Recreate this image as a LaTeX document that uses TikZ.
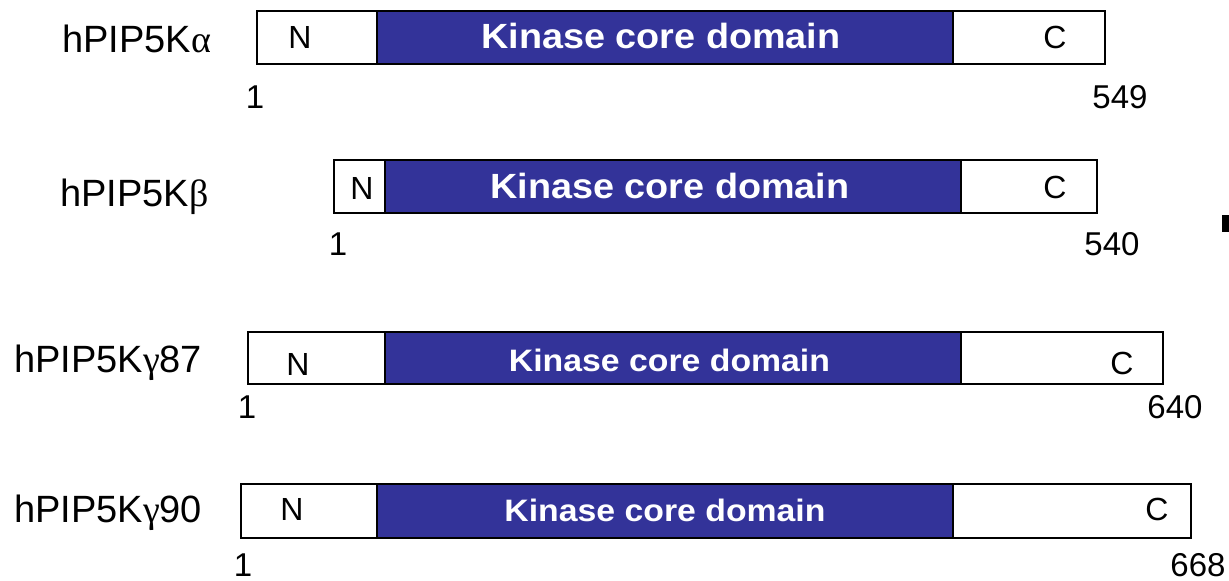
\documentclass[tikz,border=0pt]{standalone}
\usepackage{fontspec}
\usepackage{graphicx}
\setmainfont{Liberation Sans}
\newfontfamily\grk{Liberation Serif}
\definecolor{kinase}{RGB}{51,51,153}
\tikzset{
  seg/.style={draw=black, line width=1.8pt, fill=white, inner sep=0pt, outer sep=0pt, anchor=north west},
  kseg/.style={seg, fill=kinase},
  lbl/.style={anchor=base west, inner sep=0pt, font=\fontsize{38}{41}\selectfont},
  term/.style={anchor=base, inner sep=0pt, font=\fontsize{32}{35}\selectfont},
  num/.style={anchor=base, inner sep=0pt, font=\fontsize{33}{36}\selectfont},
  ktxt/.style={anchor=base, inner sep=0pt, text=white},
}
\newcommand{\bigk}{\fontsize{35}{38}\selectfont\bfseries\scalebox{1.08}[1]{Kinase core domain}}
\newcommand{\smallk}{\fontsize{31}{34}\selectfont\bfseries\scalebox{1.09}[1]{Kinase core domain}}
\begin{document}
\begin{tikzpicture}[x=1pt,y=-1pt]
\useasboundingbox (0,0) rectangle (1229,581);
% Row 1: alpha
\node[seg, minimum width=120pt, minimum height=53pt] (a-n) at (257,11) {};
\node[seg, minimum width=152pt, minimum height=53pt] (a-c) at (953,11) {};
\node[kseg, minimum width=576pt, minimum height=53pt] (a-k) at (377,11) {};
\node[lbl] (a-lbl) at (62,52) {hPIP5K{\grk α}};
\node[term] (a-nt) at (300,48) {N};
\node[term] (a-ct) at (1055,48) {C};
\node[ktxt] (a-kt) at (661,48) {\bigk};
\node[num] (a-s) at (255,108) {1};
\node[num] (a-e) at (1120,108) {549};
% Row 2: beta
\node[seg, minimum width=51pt, minimum height=53pt] (b-n) at (334,160) {};
\node[seg, minimum width=136pt, minimum height=53pt] (b-c) at (961,160) {};
\node[kseg, minimum width=576pt, minimum height=53pt] (b-k) at (385,160) {};
\node[lbl] (b-lbl) at (60,206) {hPIP5K{\grk β}};
\node[term] (b-nt) at (362,199) {N};
\node[term] (b-ct) at (1055,198) {C};
\node[ktxt] (b-kt) at (670,198) {\bigk};
\node[num] (b-s) at (338,255) {1};
\node[num] (b-e) at (1112,255) {540};
% Row 3: gamma87
\node[seg, minimum width=137pt, minimum height=52pt] (g-n) at (248,332) {};
\node[seg, minimum width=202pt, minimum height=52pt] (g-c) at (961,332) {};
\node[kseg, minimum width=576pt, minimum height=52pt] (g-k) at (385,332) {};
\node[lbl] (g-lbl) at (14,372) {hPIP5K{\grk γ}87};
\node[term] (g-nt) at (298,375) {N};
\node[term] (g-ct) at (1122,374) {C};
\node[ktxt] (g-kt) at (669.5,371) {\smallk};
\node[num] (g-s) at (247,418) {1};
\node[num] (g-e) at (1175,418) {640};
% Row 4: gamma90
\node[seg, minimum width=136pt, minimum height=54pt] (h-n) at (241,484) {};
\node[seg, minimum width=238pt, minimum height=54pt] (h-c) at (953,484) {};
\node[kseg, minimum width=576pt, minimum height=54pt] (h-k) at (377,484) {};
\node[lbl] (h-lbl) at (14,522) {hPIP5K{\grk γ}90};
\node[term] (h-nt) at (292,520) {N};
\node[term] (h-ct) at (1157,520) {C};
\node[ktxt] (h-kt) at (665,521) {\smallk};
\node[num] (h-s) at (243,576) {1};
\node[num] (h-e) at (1198,576) {668};
% stray mark
\fill[black] (1222,215) rectangle (1229,232);
\end{tikzpicture}
\end{document}
